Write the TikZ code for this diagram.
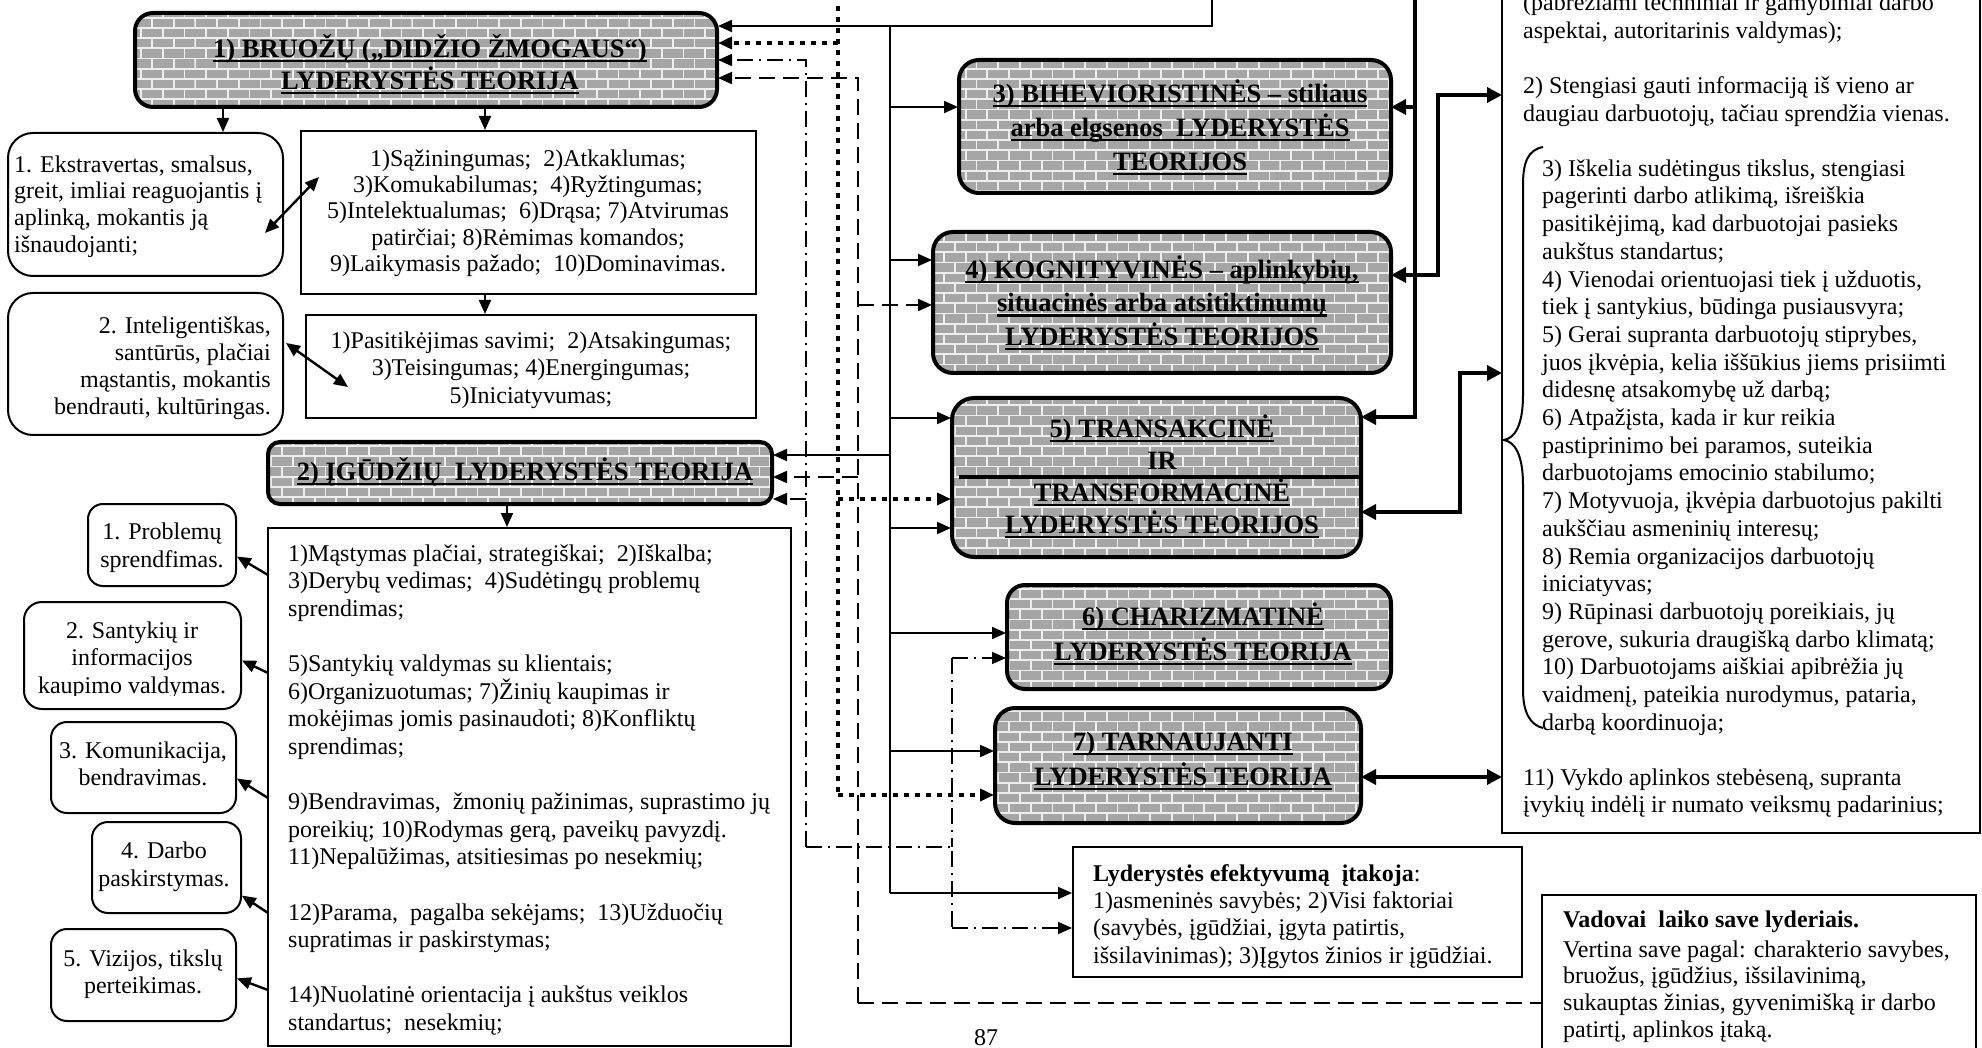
\documentclass[tikz,border=0pt]{standalone}
\usepackage{fontspec}
\setmainfont{Liberation Serif}
\usetikzlibrary{arrows.meta,patterns,calc}

\definecolor{brick}{RGB}{165,165,165}
\definecolor{mortar}{RGB}{238,238,238}

% brick wall fill used by the theory boxes
\pgfdeclarepatternformonly{wallbricks}{\pgfpoint{-1pt}{-1pt}}{\pgfpoint{22.7pt}{21.4pt}}{\pgfpoint{21.7pt}{20.4pt}}{%
  \pgfsetlinewidth{1.8pt}%
  \pgfpathmoveto{\pgfpoint{-1pt}{0pt}}\pgfpathlineto{\pgfpoint{22.7pt}{0pt}}%
  \pgfpathmoveto{\pgfpoint{-1pt}{10.2pt}}\pgfpathlineto{\pgfpoint{22.7pt}{10.2pt}}%
  \pgfpathmoveto{\pgfpoint{0pt}{0pt}}\pgfpathlineto{\pgfpoint{0pt}{10.2pt}}%
  \pgfpathmoveto{\pgfpoint{10.85pt}{10.2pt}}\pgfpathlineto{\pgfpoint{10.85pt}{20.4pt}}%
  \pgfusepath{stroke}}

\newsavebox\ulbox
\newcommand\ulline[1]{\sbox\ulbox{#1}\rlap{\rule[-5pt]{\wd\ulbox}{2.4pt}}\usebox\ulbox}
\newcommand\lnstrut[1]{\rule{0pt}{#1pt}}

\begin{document}
\begin{tikzpicture}[x=1pt,y=-1pt,
  brickbox/.style={rounded corners=#1, fill=brick,
    postaction={pattern=wallbricks, pattern color=mortar},
    postaction={draw=black, line width=4pt},
    inner sep=0pt, outer sep=0pt, anchor=north west},
  tbox/.style={draw, line width=2pt, inner sep=0pt, outer sep=0pt, anchor=north west},
  rbox/.style={tbox, rounded corners=#1},
  title/.style={font=\fontsize{26.5}{#1}\selectfont\bfseries, inner sep=0pt, align=center, anchor=north},
  body/.style={font=\fontsize{24}{#1}\selectfont, inner sep=0pt},
  arr/.style={-{Triangle[length=14pt,width=12pt]}, line width=2pt, shorten >=1pt},
  darr/.style={{Triangle[length=14pt,width=12pt]}-{Triangle[length=14pt,width=12pt]}, line width=2.4pt},
  harr/.style={-{Triangle[length=15pt,width=15pt]}, line width=3.5pt},
  hdarr/.style={{Triangle[length=15pt,width=15pt]}-{Triangle[length=15pt,width=15pt]}, line width=3.5pt},
  sqdots/.style={line width=4.5pt, dash pattern=on 5pt off 6pt},
  longdash/.style={line width=2pt, dash pattern=on 16pt off 8pt},
  dashdots/.style={line width=1.6pt, dash pattern=on 16pt off 6pt on 2pt off 6pt},
]
\useasboundingbox (0,0) rectangle (1982,1048);
\clip (0,0) rectangle (1982,1048);

% ---------- theory boxes ----------
\node[brickbox=18pt, minimum width=582pt, minimum height=94pt] (b1) at (135,13) {};
\node[brickbox=12pt, minimum width=504pt, minimum height=62pt] (b2) at (268,442) {};
\node[brickbox=20pt, minimum width=432pt, minimum height=133pt] (b3) at (959,60) {};
\node[brickbox=20pt, minimum width=458pt, minimum height=141pt] (b4) at (933,232) {};
\node[brickbox=22pt, minimum width=409pt, minimum height=159pt] (b5) at (952,398) {};
\node[brickbox=18pt, minimum width=384pt, minimum height=104pt] (b6) at (1007,585) {};
\node[brickbox=20pt, minimum width=366pt, minimum height=115pt] (b7) at (995,708) {};

% ---------- text boxes ----------
\node[rbox=25pt, minimum width=275pt, minimum height=143pt] (L1) at (8,133) {};
\node[rbox=25pt, minimum width=275pt, minimum height=142pt] (L2) at (8,293) {};
\node[tbox, minimum width=455pt, minimum height=163pt] (T1) at (301,131) {};
\node[tbox, minimum width=450pt, minimum height=103pt] (T2) at (306,315) {};
\node[tbox, minimum width=523pt, minimum height=518pt] (S) at (268,528) {};
\node[rbox=15pt, minimum width=148pt, minimum height=82pt] (S1) at (88,504) {};
\node[rbox=18pt, minimum width=217pt, minimum height=107pt] (S2) at (24,602) {};
\node[rbox=16pt, minimum width=185pt, minimum height=91pt] (S3) at (51,722) {};
\node[rbox=16pt, minimum width=149pt, minimum height=91pt] (S4) at (92,822) {};
\node[rbox=16pt, minimum width=185pt, minimum height=92pt] (S5) at (51,929) {};
\node[tbox, line width=2.4pt, minimum width=478pt, minimum height=853pt] (R) at (1502,-20) {};
\node[tbox, line width=2.4pt, minimum width=449pt, minimum height=130pt] (B1) at (1073,847) {};
\node[tbox, line width=2.4pt, minimum width=434pt, minimum height=180pt] (B2) at (1542,895) {};

% ---------- junction points ----------
\coordinate (srcA) at (1212,-5);
\coordinate (srcB) at (1415,-5);
\coordinate (srcD) at (838,-5);
\coordinate (tTop) at (890,26);
\coordinate (tBot) at (890,893);
\coordinate (dBot) at (838,795);
\coordinate (ddTop) at (806,60);
\coordinate (ddBot) at (806,847);
\coordinate (ddR) at (952,847);
\coordinate (ddUp) at (952,658);
\coordinate (ddLow) at (952,928);
\coordinate (dsTop) at (858,78);
\coordinate (dsBot) at (858,1003);

% solid trunk and its branches
\draw[arr] (srcA) |- (b1.east |- tTop);
\draw[line width=2pt] (tTop) -- (tBot);
\draw[arr] (tTop |- 0,107) -- (b3.west |- 0,107);
\draw[arr] (tTop |- 0,260) -- (b4.west |- 0,260);
\draw[arr] (tTop |- 0,455) -- (b2.east |- 0,455);
\draw[arr] (tTop |- 0,418) -- (b5.west |- 0,418);
\draw[arr] (tTop |- 0,528) -- (b5.west |- 0,528);
\draw[arr] (tTop |- 0,633) -- (b6.west |- 0,633);
\draw[arr] (tTop |- 0,751) -- (b7.west |- 0,751);
\draw[arr] (tBot) -- (B1.west |- tBot);

% square-dotted line
\draw[sqdots] (srcD) -- (dBot);
\draw[sqdots, arr, line width=4.5pt] (srcD |- 0,43) -- (b1.east |- 0,43);
\draw[sqdots, arr, line width=4.5pt] (srcD |- 0,499) -- (b5.west |- 0,499);
\draw[sqdots, arr, line width=4.5pt] (dBot) -- (b7.west |- dBot);

% dash-dot line
\draw[dashdots, arr, line width=1.6pt] (ddBot) -- (ddTop) -- (b1.east |- ddTop);
\draw[dashdots, arr, line width=1.6pt] (ddTop |- 0,499) -- (b2.east |- 0,499);
\draw[dashdots] (ddBot) -- (ddR) -- (ddLow);
\draw[dashdots] (ddUp) -- (ddR);
\draw[dashdots, arr, line width=1.6pt] (ddUp) -- (b6.west |- ddUp);
\draw[dashdots, arr, line width=1.6pt] (ddLow) -- (B1.west |- ddLow);

% long-dash line
\draw[longdash, arr] (dsBot) -- (dsTop) -- (b1.east |- dsTop);
\draw[longdash] (dsBot) -- (B2.west |- dsBot);
\draw[longdash, arr] (dsTop |- 0,477) -- (b2.east |- 0,477);
\draw[longdash, arr] (dsTop |- 0,305) -- (b4.west |- 0,305);

% heavy connectors on the right
\draw[line width=3.5pt] (srcB) -- (srcB |- 0,107);
\draw[harr] (srcB) |- (b5.east |- 0,417);
\draw[harr] (srcB |- 0,107) -- (b3.east |- 0,107);
\draw[hdarr] (b4.east |- 0,275) -| (1438,95) -- (R.west |- 0,95);
\draw[hdarr] (b5.east |- 0,512) -| (1460,373) -- (R.west |- 0,373);
\draw[hdarr] (b7.east |- 0,777) -- (R.west |- 0,777);

% left column arrows
\draw[arr] (b1.south -| 223,0) -- (L1.north -| 223,0);
\draw[arr] (b1.south -| 485,0) -- (T1.north -| 485,0);
\draw[arr] (T1.south -| 485,0) -- (T2.north -| 485,0);
\draw[arr] (b2.south -| 507,0) -- (S.north -| 507,0);
\draw[darr] ($(L1.east |- 0,233)+(-18,0)$) -- ($(T1.west |- 0,177)+(18,0)$);
\draw[darr] ($(L2.east |- 0,343)+(3,0)$) -- ($(T2.west |- 0,387)+(42,0)$);
\draw[arr, line width=2.4pt] (S.west |- 0,575) -- (S1.east |- 0,556);
\draw[arr, line width=2.4pt] (S.west |- 0,673) -- (S2.east |- 0,660);
\draw[arr, line width=2.4pt] (S.west |- 0,798) -- (S3.east |- 0,778);
\draw[arr, line width=2.4pt] (S.west |- 0,913) -- (S4.east |- 0,895);
\draw[arr, line width=2.4pt] (S.west |- 0,990) -- (S5.east |- 0,978);

% brace in the right box
\draw[line width=2pt] (1543,147) .. controls (1528,150) and (1523,162) .. (1523,185) -- (1523,395)
  .. controls (1523,425) and (1515,438) .. (1504,440)
  .. controls (1515,442) and (1523,455) .. (1523,485) -- (1523,690)
  .. controls (1523,712) and (1530,725) .. (1543,728);

% ---------- titles ----------
\node[title=32] (b1t) at (430,29) {\lnstrut{28}\ulline{1) BRUOŽŲ („DIDŽIO ŽMOGAUS“)}\\\ulline{LYDERYSTĖS TEORIJA}};
\node[title=32] (b2t) at (525,452) {\lnstrut{28}\ulline{2) ĮGŪDŽIŲ~ LYDERYSTĖS TEORIJA}};
\node[title=34] (b3t) at (1180,74) {\lnstrut{28}\ulline{3) BIHEVIORISTINĖS – stiliaus}\\\ulline{arba elgsenos~ LYDERYSTĖS}\\\ulline{TEORIJOS}};
\node[title=33.5] (b4t) at (1162,250) {\lnstrut{28}\ulline{4) KOGNITYVINĖS – aplinkybių,}\\\ulline{situacinės arba atsitiktinumų}\\\ulline{LYDERYSTĖS TEORIJOS}};
\node[title=32] (b5t) at (1162,409) {\lnstrut{28}\ulline{5) TRANSAKCINĖ}\\IR\\\ulline{TRANSFORMACINĖ}\\\ulline{LYDERYSTĖS TEORIJOS}};
\draw[line width=3pt] ($(b5.west |- 0,477)+(7,0)$) -- (b5.east |- 0,477);
\node[title=35] (b6t) at (1203,597) {\lnstrut{28}\ulline{6) CHARIZMATINĖ}\\\ulline{LYDERYSTĖS TEORIJA}};
\node[title=35] (b7t) at (1183,722) {\lnstrut{28}\ulline{7) TARNAUJANTI}\\\ulline{LYDERYSTĖS TEORIJA}};

% ---------- body texts ----------
\node[body=26.7, anchor=north west, align=left] (L1t) at (14,148) {\lnstrut{24}1. Ekstravertas, smalsus,\\greit, imliai reaguojantis į\\aplinką, mokantis ją\\išnaudojanti;};
\node[body=27, anchor=north east, align=right] (L2t) at (271,309) {\lnstrut{24}2. Inteligentiškas,\\santūrūs, plačiai\\mąstantis, mokantis\\bendrauti, kultūringas.};
\node[body=26.3, anchor=north, align=center] (T1t) at (528,142) {\lnstrut{24}1)Sąžiningumas;~ 2)Atkaklumas;\\3)Komukabilumas;~ 4)Ryžtingumas;\\5)Intelektualumas;~ 6)Drąsa; 7)Atvirumas\\patirčiai; 8)Rėmimas komandos;\\9)Laikymasis pažado;~ 10)Dominavimas.};
\node[body=27.5, anchor=north, align=center] (T2t) at (531,324) {\lnstrut{24}1)Pasitikėjimas savimi;~ 2)Atsakingumas;\\3)Teisingumas; 4)Energingumas;\\5)Iniciatyvumas;};
\node[body=27.6, anchor=north west, align=left] (St) at (288,537) {\lnstrut{24}1)Mąstymas plačiai, strategiškai;~ 2)Iškalba;\\3)Derybų vedimas;~ 4)Sudėtingų problemų\\sprendimas;\\[27.6pt]5)Santykių valdymas su klientais;\\6)Organizuotumas; 7)Žinių kaupimas ir\\mokėjimas jomis pasinaudoti; 8)Konfliktų\\sprendimas;\\[27.6pt]9)Bendravimas,~ žmonių pažinimas, suprastimo jų\\poreikių; 10)Rodymas gerą, paveikų pavyzdį.\\11)Nepalūžimas, atsitiesimas po nesekmių;\\[27.6pt]12)Parama,~ pagalba sekėjams;~ 13)Užduočių\\supratimas ir paskirstymas;\\[27.6pt]14)Nuolatinė orientacija į aukštus veiklos\\standartus;~ nesekmių;};
\node[body=28, anchor=north, align=center] (S1t) at (162,515) {\lnstrut{24}1. Problemų\\sprendfimas.};
\begin{scope}
\clip (S2.north west) rectangle (S2.east |- 0,695);
\node[body=27.5, anchor=north, align=center] (S2t) at (132,614) {\lnstrut{24}2. Santykių ir\\informacijos\\kaupimo valdymas.};
\end{scope}
\node[body=27.5, anchor=north, align=center] (S3t) at (143,734) {\lnstrut{24}3. Komunikacija,\\bendravimas.};
\node[body=28.5, anchor=north, align=center] (S4t) at (164,834) {\lnstrut{24}4. Darbo\\paskirstymas.};
\node[body=27.5, anchor=north, align=center] (S5t) at (143,942) {\lnstrut{24}5. Vizijos, tikslų\\perteikimas.};

\node[body=27.6, anchor=north west, align=left] (R1t) at (1523,-13.6) {\lnstrut{24}(pabrėžiami techniniai ir gamybiniai darbo\\aspektai, autoritarinis valdymas);};
\node[body=28, anchor=north west, align=left] (R2t) at (1523,69) {\lnstrut{24}2) Stengiasi gauti informaciją iš vieno ar\\daugiau darbuotojų, tačiau sprendžia vienas.};
\node[body=27.7, anchor=north west, align=left] (R3t) at (1542,152) {\lnstrut{24}3) Iškelia sudėtingus tikslus, stengiasi\\pagerinti darbo atlikimą, išreiškia\\pasitikėjimą, kad darbuotojai pasieks\\aukštus standartus;\\4) Vienodai orientuojasi tiek į užduotis,\\tiek į santykius, būdinga pusiausvyra;\\5) Gerai supranta darbuotojų stiprybes,\\juos įkvėpia, kelia iššūkius jiems prisiimti\\didesnę atsakomybę už darbą;\\6) Atpažįsta, kada ir kur reikia\\pastiprinimo bei paramos, suteikia\\darbuotojams emocinio stabilumo;\\7) Motyvuoja, įkvėpia darbuotojus pakilti\\aukščiau asmeninių interesų;\\8) Remia organizacijos darbuotojų\\iniciatyvas;\\9) Rūpinasi darbuotojų poreikiais, jų\\gerove, sukuria draugišką darbo klimatą;\\10) Darbuotojams aiškiai apibrėžia jų\\vaidmenį, pateikia nurodymus, pataria,\\darbą koordinuoja;};
\node[body=27, anchor=north west, align=left] (R4t) at (1523,761) {\lnstrut{24}11) Vykdo aplinkos stebėseną, supranta\\įvykių indėlį ir numato veiksmų padarinius;};

\node[body=27.3, anchor=north west, align=left] (B1t) at (1093,857) {\lnstrut{24}\textbf{Lyderystės efektyvumą~ įtakoja}:\\1)asmeninės savybės; 2)Visi faktoriai\\(savybės, įgūdžiai, įgyta patirtis,\\išsilavinimas); 3)Įgytos žinios ir įgūdžiai.};
\node[body=26.6, anchor=north west, align=left] (B2t) at (1563,903) {\lnstrut{24}\textbf{Vadovai~ laiko save lyderiais.}\\[3.4pt]Vertina save pagal: charakterio savybes,\\bruožus, įgūdžius, išsilavinimą,\\sukauptas žinias, gyvenimišką ir darbo\\patirtį, aplinkos įtaką.};

\node[body=27, anchor=base] (pg) at (986,1045) {87};
\end{tikzpicture}
\end{document}
